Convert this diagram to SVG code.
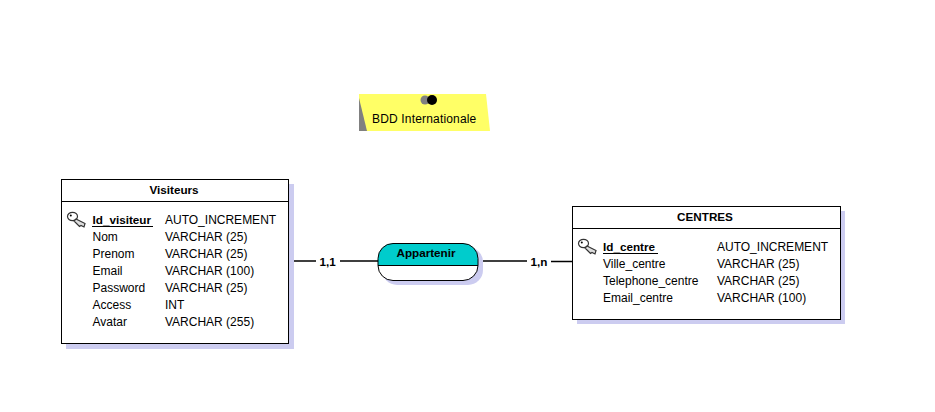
<svg xmlns="http://www.w3.org/2000/svg" width="935" height="412" viewBox="0 0 935 412">
<style>
text{font-family:"Liberation Sans",Arial,sans-serif;font-size:12px;fill:#000}
.b{font-weight:bold;font-size:11.700px}
.m{text-anchor:middle}
.shadow{fill:#ccccf0}
.box{fill:#fff;stroke:#000;stroke-width:1}
.ln{stroke:#000;fill:none;stroke-width:1}
.conn{stroke:#000;fill:none;stroke-width:1.5}
.key{fill:#fff;stroke:#333;stroke-width:1.200}
</style>
<defs>
<g id="key">
<ellipse cx="5.500" cy="4.500" rx="5" ry="4.200"/>
<path d="M9 7 L18 11.500 L17 15 L14 13.500 L12.500 14.500 L7 9Z" fill="#ddd"/>
<circle cx="3.800" cy="3.500" r="1" fill="#000" stroke="none"/>
</g>
</defs>
<rect width="935" height="412" fill="#fff"/>
<g id="note">
<polygon points="359,94 486,94 490,131 359,131" fill="#ffff66"/>
<polygon points="359,98 367,131 359,131" fill="#808080"/>
<circle cx="425" cy="100" r="4.500" fill="#808080"/>
<circle cx="432" cy="100" r="5" fill="#000"/>
<text x="372" y="122.500" letter-spacing=".17">BDD Internationale</text>
</g>
<g id="connectors">
<path class="conn" d="M293 261H316M340 261H378"/>
<path class="conn" d="M483 261H527M551 261.500H573"/>
<text class="b" x="319.500" y="265.500">1,1</text>
<text class="b" x="530.500" y="265.500">1,n</text>
</g>
<g id="visiteurs">
<rect class="shadow" x="66" y="184" width="228" height="165"/>
<rect class="box" x="61.500" y="179.500" width="227" height="164"/>
<path class="ln" d="M62 201.500H288"/>
<text class="b m" x="174" y="193.500">Visiteurs</text>
<use href="#key" x="67" y="212" class="key"/>
<text class="b" x="92.500" y="224">Id_visiteur</text>
<path class="ln" d="M92 226.500H153"/>
<text x="92.500" y="241">Nom</text>
<text x="92.500" y="258">Prenom</text>
<text x="92.500" y="275">Email</text>
<text x="92.500" y="292">Password</text>
<text x="92.500" y="309">Access</text>
<text x="92.500" y="326">Avatar</text>
<text x="165" y="224">AUTO_INCREMENT</text>
<text x="165" y="241">VARCHAR (25)</text>
<text x="165" y="258">VARCHAR (25)</text>
<text x="165" y="275">VARCHAR (100)</text>
<text x="165" y="292">VARCHAR (25)</text>
<text x="165" y="309">INT</text>
<text x="165" y="326">VARCHAR (255)</text>
</g>
<g id="appartenir">
<rect class="shadow" x="382" y="247" width="101" height="38" rx="15"/>
<rect x="378" y="243.500" width="100" height="37" rx="15" fill="#fff"/>
<path d="M378 266V258.500a15 15 0 0 1 15-15H463a15 15 0 0 1 15 15V266Z" fill="#00cccc"/>
<rect class="ln" x="378" y="243.500" width="100" height="37" rx="15"/>
<path class="ln" d="M378 265.500H478"/>
<text class="b m" x="426" y="257">Appartenir</text>
</g>
<g id="centres">
<rect class="shadow" x="577" y="211" width="268" height="113"/>
<rect class="box" x="572.500" y="206.500" width="268" height="113"/>
<path class="ln" d="M573 228.500H840"/>
<text class="b m" x="705" y="220.500">CENTRES</text>
<use href="#key" x="578" y="239" class="key"/>
<text class="b" x="603" y="251">Id_centre</text>
<path class="ln" d="M603 253.500H658"/>
<text x="603" y="268">Ville_centre</text>
<text x="603" y="285">Telephone_centre</text>
<text x="603" y="302">Email_centre</text>
<text x="717" y="251">AUTO_INCREMENT</text>
<text x="717" y="268">VARCHAR (25)</text>
<text x="717" y="285">VARCHAR (25)</text>
<text x="717" y="302">VARCHAR (100)</text>
</g>
</svg>
